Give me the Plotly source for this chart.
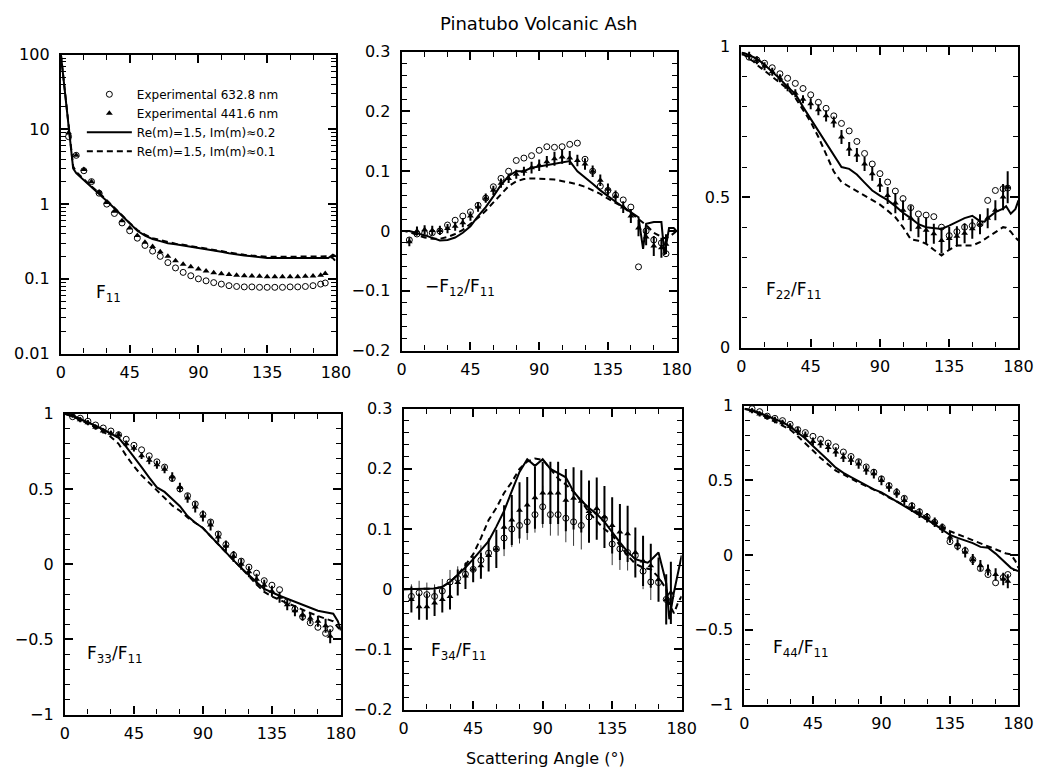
import plotly.graph_objects as go

# ---------------- data ----------------
# scattering angles (deg) of model curves and of measurements
ANG_MODEL = [0, 2, 5, 8, 10,
             15, 20, 25, 30, 35, 40, 45, 50, 55, 60,
             65, 70, 75, 80, 85, 90, 95, 100, 105, 110,
             115, 120, 125, 130, 135, 140, 145, 150, 155,
             158, 160, 165, 170, 172, 175, 178, 180]
ANG_EXP = [5, 10, 15, 20, 25, 30, 35, 40, 45, 50,
           55, 60, 65, 70, 75, 80, 85, 90, 95, 100,
           105, 110, 115, 120, 125, 130, 135, 140, 145, 150,
           155, 160, 165, 170, 173]

# ---- F11 ----
F11_M02 = [100, 40, 12, 3.0, 2.6,
           2.1, 1.7, 1.4, 1.1, 0.88, 0.7, 0.55, 0.44, 0.38, 0.34,
           0.32, 0.3, 0.29, 0.28, 0.27, 0.26, 0.25, 0.24, 0.23, 0.22,
           0.21, 0.205, 0.2, 0.195, 0.19, 0.19, 0.19, 0.188, 0.188,
           0.188, 0.19, 0.19, 0.19, 0.19, 0.19, 0.21, 0.2]
F11_M01 = [100, 42, 13, 3.2, 2.7,
           2.15, 1.72, 1.42, 1.12, 0.9, 0.72, 0.56, 0.45, 0.39, 0.35,
           0.33, 0.31, 0.295, 0.285, 0.275, 0.265, 0.255, 0.245, 0.235, 0.225,
           0.215, 0.21, 0.205, 0.2, 0.198, 0.197, 0.197, 0.197, 0.197,
           0.197, 0.197, 0.198, 0.198, 0.2, 0.2, 0.19, 0.17]
F11_632 = [8.0, 4.5, 2.8, 2.0, 1.4, 1.0, 0.75, 0.56, 0.44, 0.35,
           0.28, 0.235, 0.2, 0.165, 0.14, 0.122, 0.11, 0.1, 0.094, 0.089,
           0.085, 0.081, 0.079, 0.078, 0.078, 0.077, 0.077, 0.077, 0.077, 0.078,
           0.078, 0.079, 0.081, 0.085, 0.088]
F11_441 = [9.0, 4.5, 2.9, 2.0, 1.45, 1.05, 0.8, 0.6, 0.48, 0.38,
           0.31, 0.27, 0.23, 0.2, 0.175, 0.157, 0.145, 0.135, 0.127, 0.121,
           0.117, 0.114, 0.112, 0.11, 0.109, 0.108, 0.107, 0.107, 0.107, 0.107,
           0.107, 0.108, 0.109, 0.112, 0.118]

# ---- -F12/F11 ----
F12_M02 = [0, 0, 0, -0.002, -0.004,
           -0.007, -0.012, -0.016, -0.015, -0.011, -0.003, 0.008, 0.025, 0.04, 0.058,
           0.077, 0.092, 0.1, 0.1, 0.106, 0.108, 0.11, 0.112, 0.114, 0.117,
           0.1, 0.09, 0.079, 0.068, 0.058, 0.049, 0.04, 0.032, 0.023,
           -0.03, 0.012, 0.015, 0.015, -0.04, 0.005, 0.005, 0.0]
F12_M01 = [0, 0, -0.002, -0.005, -0.007,
           -0.011, -0.013, -0.013, -0.01, -0.005, 0.002, 0.012, 0.022, 0.034, 0.048,
           0.062, 0.075, 0.083, 0.087, 0.088, 0.088, 0.087, 0.086, 0.084, 0.081,
           0.078, 0.074, 0.068, 0.062, 0.054, 0.047, 0.04, 0.03, 0.02,
           0.014, 0.01, -0.003, -0.01, -0.012, -0.01, -0.004, 0.0]
F12_632 = [-0.015, -0.005, -0.004, -0.003, 0.0, 0.01, 0.018, 0.025, 0.032, 0.043,
           0.055, 0.074, 0.088, 0.1, 0.118, 0.122, 0.126, 0.135, 0.141, 0.14,
           0.141, 0.145, 0.147, 0.12, 0.1, 0.075, 0.068, 0.06, 0.052, 0.04,
           -0.06, 0.0, -0.015, -0.02, -0.038]
F12_441 = [-0.018, 0.0, 0.002, 0.001, 0.001, 0.004, 0.008, 0.014, 0.025, 0.04,
           0.055, 0.068, 0.08, 0.088, 0.095, 0.1, 0.106, 0.11, 0.116, 0.121,
           0.124, 0.122, 0.118, 0.112, 0.1, 0.085, 0.07, 0.058, 0.04, 0.025,
           0.005, -0.01, -0.025, -0.028, -0.022]
F12_441_ERR = [0.006, 0.006, 0.006, 0.006, 0.006, 0.006, 0.006, 0.006, 0.006, 0.006,
               0.006, 0.006, 0.006, 0.006, 0.006, 0.006, 0.008, 0.008, 0.008, 0.01,
               0.01, 0.01, 0.008, 0.008, 0.008, 0.008, 0.008, 0.008, 0.008, 0.01,
               0.012, 0.012, 0.015, 0.015, 0.015]

# ---- F22/F11 ----
F22_M02 = [0.98, 0.978, 0.972, 0.965, 0.96,
           0.94, 0.917, 0.893, 0.866, 0.843, 0.8, 0.76, 0.72, 0.68, 0.638,
           0.6, 0.594, 0.575, 0.548, 0.522, 0.505, 0.49, 0.47, 0.448, 0.43,
           0.41, 0.4, 0.397, 0.394, 0.405, 0.417, 0.43, 0.438, 0.42,
           0.418, 0.43, 0.45, 0.462, 0.47, 0.445, 0.46, 0.489]
F22_M01 = [0.975, 0.972, 0.96, 0.95, 0.94,
           0.92, 0.9, 0.88, 0.86, 0.83, 0.79, 0.75, 0.7, 0.645, 0.585,
           0.55, 0.535, 0.52, 0.505, 0.49, 0.475, 0.455, 0.433, 0.4, 0.36,
           0.355, 0.345, 0.325, 0.306, 0.325, 0.339, 0.339, 0.339, 0.35,
           0.36, 0.367, 0.385, 0.4, 0.398, 0.385, 0.365, 0.356]
F22_632 = [0.965, 0.956, 0.945, 0.93, 0.91, 0.895, 0.878, 0.861, 0.84, 0.815,
           0.795, 0.77, 0.745, 0.72, 0.685, 0.645, 0.61, 0.578, 0.55, 0.52,
           0.495, 0.465, 0.444, 0.44, 0.435, 0.4, 0.372, 0.385, 0.4, 0.405,
           0.411, 0.489, 0.522, 0.528, 0.53]
F22_441 = [0.97, 0.955, 0.935, 0.917, 0.895, 0.865, 0.845, 0.825, 0.81, 0.79,
           0.77, 0.75, 0.7, 0.66, 0.64, 0.61, 0.578, 0.54, 0.505, 0.48,
           0.456, 0.43, 0.4, 0.39, 0.378, 0.356, 0.362, 0.37, 0.38, 0.395,
           0.41, 0.43, 0.456, 0.5, 0.533]
F22_441_ERR = [0.01, 0.01, 0.01, 0.01, 0.01, 0.01, 0.01, 0.01, 0.015, 0.015,
               0.015, 0.015, 0.02, 0.02, 0.02, 0.02, 0.02, 0.02, 0.025, 0.03,
               0.03, 0.04, 0.03, 0.04, 0.03, 0.04, 0.035, 0.03, 0.03, 0.03,
               0.03, 0.03, 0.03, 0.04, 0.05]

# ---- F33/F11 ----
F33_M02 = [1.0, 0.995, 0.985, 0.975, 0.965,
           0.945, 0.92, 0.895, 0.866, 0.84, 0.78, 0.715, 0.645, 0.575, 0.51,
           0.48, 0.435, 0.385, 0.32, 0.275, 0.24, 0.185, 0.135, 0.08, 0.025,
           -0.025, -0.075, -0.12, -0.165, -0.19, -0.21, -0.23, -0.25, -0.27,
           -0.28, -0.29, -0.31, -0.32, -0.325, -0.33, -0.38, -0.44]
F33_M01 = [1.0, 0.993, 0.98, 0.97, 0.96,
           0.935, 0.91, 0.88, 0.845, 0.8, 0.72, 0.65, 0.59, 0.54, 0.49,
           0.44, 0.39, 0.355, 0.31, 0.275, 0.24, 0.185, 0.133, 0.078, 0.022,
           -0.03, -0.08, -0.135, -0.185, -0.215, -0.24, -0.26, -0.28, -0.305,
           -0.315, -0.325, -0.345, -0.36, -0.37, -0.38, -0.42, -0.44]
F33_632 = [0.98, 0.97, 0.95, 0.925, 0.905, 0.885, 0.86, 0.83, 0.79, 0.76,
           0.72, 0.68, 0.645, 0.57, 0.5, 0.455, 0.4, 0.33, 0.28, 0.2,
           0.13, 0.06, 0.02, -0.02, -0.06, -0.11, -0.14, -0.17, -0.25, -0.3,
           -0.35, -0.39, -0.42, -0.46, -0.43]
F33_441 = [0.99, 0.96, 0.94, 0.91, 0.885, 0.87, 0.86, 0.8, 0.77, 0.72,
           0.69, 0.66, 0.63, 0.58, 0.51, 0.44, 0.38, 0.32, 0.26, 0.18,
           0.12, 0.05, 0.0, -0.05, -0.1, -0.14, -0.18, -0.22, -0.27, -0.31,
           -0.34, -0.36, -0.38, -0.41, -0.48]
F33_441_ERR = [0.01, 0.01, 0.01, 0.01, 0.01, 0.01, 0.015, 0.015, 0.015, 0.015,
               0.02, 0.02, 0.02, 0.025, 0.025, 0.025, 0.03, 0.03, 0.03, 0.03,
               0.03, 0.03, 0.03, 0.03, 0.03, 0.03, 0.03, 0.03, 0.03, 0.03,
               0.03, 0.03, 0.03, 0.04, 0.04]

# ---- F34/F11 ----
F34_M02 = [0, 0, 0, 0, 0,
           0, 0.001, 0.004, 0.012, 0.024, 0.036, 0.05, 0.065, 0.08, 0.104,
           0.13, 0.163, 0.195, 0.216, 0.205, 0.216, 0.2, 0.193, 0.186, 0.162,
           0.147, 0.135, 0.125, 0.112, 0.094, 0.078, 0.062, 0.05, 0.046,
           0.044, 0.048, 0.061, 0.01, -0.05, -0.005, 0.035, 0.056]
F34_M01 = [0, 0, 0, 0, 0,
           0, 0.001, 0.004, 0.012, 0.024, 0.04, 0.058, 0.085, 0.115, 0.135,
           0.16, 0.178, 0.2, 0.212, 0.217, 0.215, 0.2, 0.184, 0.174, 0.162,
           0.146, 0.128, 0.113, 0.1, 0.09, 0.073, 0.056, 0.042, 0.036,
           0.034, 0.033, 0.02, 0.0, -0.025, -0.04, -0.02, -0.012]
F34_632 = [-0.012, -0.006, -0.009, -0.012, -0.003, 0.012, 0.018, 0.025, 0.033, 0.048,
           0.06, 0.067, 0.085, 0.1, 0.106, 0.112, 0.124, 0.137, 0.124, 0.124,
           0.118, 0.112, 0.106, 0.12, 0.129, 0.117, 0.075, 0.067, 0.061, 0.056,
           0.03, 0.012, 0.011, -0.017, -0.012]
F34_632_ERR = [0.02, 0.02, 0.02, 0.02, 0.02, 0.02, 0.02, 0.02, 0.02, 0.025,
               0.025, 0.025, 0.03, 0.03, 0.03, 0.03, 0.03, 0.035, 0.035, 0.035,
               0.04, 0.04, 0.04, 0.035, 0.035, 0.035, 0.035, 0.035, 0.03, 0.03,
               0.03, 0.03, 0.03, 0.04, 0.04]
F34_441 = [-0.017, -0.029, -0.029, -0.023, -0.017, -0.012, 0.011, 0.022, 0.033, 0.039,
           0.056, 0.067, 0.103, 0.115, 0.131, 0.14, 0.152, 0.16, 0.16, 0.16,
           0.148, 0.151, 0.146, 0.129, 0.134, 0.12, 0.106, 0.095, 0.092, 0.061,
           0.047, 0.039, 0.016, -0.017, -0.006]
F34_441_ERR = [0.02, 0.02, 0.02, 0.02, 0.02, 0.02, 0.02, 0.02, 0.02, 0.02,
               0.025, 0.03, 0.035, 0.04, 0.045, 0.045, 0.05, 0.05, 0.05, 0.05,
               0.05, 0.05, 0.05, 0.05, 0.05, 0.05, 0.045, 0.045, 0.045, 0.04,
               0.04, 0.035, 0.035, 0.04, 0.05]

# ---- F44/F11 ----
F44_M02 = [0.98, 0.978, 0.97, 0.96, 0.952,
           0.93, 0.91, 0.89, 0.86, 0.82, 0.78, 0.73, 0.685, 0.635, 0.585,
           0.55, 0.522, 0.495, 0.465, 0.44, 0.42, 0.39, 0.36, 0.33, 0.298,
           0.27, 0.238, 0.206, 0.17, 0.135, 0.115, 0.1, 0.08, 0.055,
           0.05, 0.049, 0.01, -0.04, -0.06, -0.085, -0.1, -0.107]
F44_M01 = [0.978, 0.975, 0.965, 0.955, 0.945,
           0.92, 0.895, 0.87, 0.84, 0.795, 0.75, 0.7, 0.65, 0.605, 0.565,
           0.54, 0.51, 0.485, 0.462, 0.44, 0.415, 0.385, 0.36, 0.335, 0.31,
           0.28, 0.25, 0.22, 0.19, 0.16, 0.14, 0.12, 0.1, 0.075,
           0.065, 0.055, 0.035, 0.02, 0.01, 0.005, -0.04, -0.085]
F44_632 = [0.98, 0.96, 0.93, 0.915, 0.9, 0.875, 0.84, 0.82, 0.795, 0.775,
           0.75, 0.725, 0.69, 0.66, 0.625, 0.59, 0.555, 0.51, 0.465, 0.42,
           0.38, 0.33, 0.29, 0.255, 0.22, 0.185, 0.09, 0.06, 0.03, -0.03,
           -0.09, -0.13, -0.185, -0.15, -0.13]
F44_441 = [0.966, 0.945, 0.925, 0.905, 0.885, 0.86, 0.83, 0.8, 0.76, 0.745,
           0.72, 0.69, 0.655, 0.635, 0.61, 0.57, 0.545, 0.5, 0.455, 0.415,
           0.365, 0.32, 0.28, 0.25, 0.22, 0.18, 0.12, 0.07, 0.02, -0.03,
           -0.07, -0.1, -0.13, -0.16, -0.175]
F44_441_ERR = [0.01, 0.01, 0.01, 0.015, 0.015, 0.015, 0.02, 0.02, 0.02, 0.02,
               0.025, 0.025, 0.025, 0.025, 0.025, 0.025, 0.025, 0.025, 0.025, 0.025,
               0.025, 0.025, 0.025, 0.025, 0.025, 0.025, 0.03, 0.03, 0.03, 0.03,
               0.03, 0.03, 0.035, 0.035, 0.04]

LEGEND_NAMES = ["Experimental 632.8 nm", "Experimental 441.6 nm",
                "Re(m)=1.5, Im(m)≈0.2", "Re(m)=1.5, Im(m)≈0.1"]
PANEL_LABELS = ["F<sub>11</sub>", "−F<sub>12</sub>/F<sub>11</sub>", "F<sub>22</sub>/F<sub>11</sub>",
                "F<sub>33</sub>/F<sub>11</sub>", "F<sub>34</sub>/F<sub>11</sub>", "F<sub>44</sub>/F<sub>11</sub>"]

# ---------------- layout geometry ----------------
W, H = 1044, 770
# the rendered page is slightly shrunk and offset; map target pixel -> paper fraction
AX, BX = 0.9844, 10.9
AY, BY = 0.9726, 17.4


def fx(px):
    return ((px - BX) / AX) / W


def fy(py):
    return 1 - ((py - BY) / AY) / H


# target panel boxes (left, right, top, bottom) in pixels
BOXES = [(59, 335, 55, 353), (401, 677, 52, 350), (742, 1020, 47, 347),
         (63, 340, 413, 713), (403, 682, 408, 708), (745, 1020, 405, 703)]
LABEL_POS = [(92, 293), (422, 287), (765, 290), (83, 653), (428, 650), (772, 647)]
FONT = "DejaVu Sans, Verdana, sans-serif"

panels = [
    dict(c=F11_632, t=F11_441, s=F11_M02, d=F11_M01, te=None, ce=None, ytype="log",
         yrange=[-2, 2], tick0=0, dtick=1, minor="D1"),
    dict(c=F12_632, t=F12_441, s=F12_M02, d=F12_M01, te=F12_441_ERR, ce=None, ytype="linear",
         yrange=[-0.2, 0.3], tick0=-0.2, dtick=0.1, minor=0.02),
    dict(c=F22_632, t=F22_441, s=F22_M02, d=F22_M01, te=F22_441_ERR, ce=None, ytype="linear",
         yrange=[0, 1], tick0=0, dtick=0.5, minor=0.1),
    dict(c=F33_632, t=F33_441, s=F33_M02, d=F33_M01, te=F33_441_ERR, ce=None, ytype="linear",
         yrange=[-1, 1], tick0=-1, dtick=0.5, minor=0.1),
    dict(c=F34_632, t=F34_441, s=F34_M02, d=F34_M01, te=F34_441_ERR, ce=F34_632_ERR, ytype="linear",
         yrange=[-0.2, 0.3], tick0=-0.2, dtick=0.1, minor=0.02),
    dict(c=F44_632, t=F44_441, s=F44_M02, d=F44_M01, te=F44_441_ERR, ce=None, ytype="linear",
         yrange=[-1, 1], tick0=-1, dtick=0.5, minor=0.1),
]

fig = go.Figure()
layout = {}
annotations = []

for i, p in enumerate(panels):
    n = i + 1
    sfx = "" if n == 1 else str(n)
    l, r, t, b = BOXES[i]
    xd = [fx(l), fx(r)]
    yd = [fy(b), fy(t)]
    xa, ya = "x" + sfx, "y" + sfx
    show = (n == 1)

    fig.add_trace(go.Scatter(
        x=ANG_MODEL, y=p["s"], mode="lines", name=LEGEND_NAMES[2], showlegend=show,
        legendrank=3, xaxis=xa, yaxis=ya, line=dict(color="black", width=2)))
    fig.add_trace(go.Scatter(
        x=ANG_MODEL, y=p["d"], mode="lines", name=LEGEND_NAMES[3], showlegend=show,
        legendrank=4, xaxis=xa, yaxis=ya, line=dict(color="black", width=2, dash="6px,4px")))
    fig.add_trace(go.Scatter(
        x=ANG_EXP, y=p["c"], mode="markers", name=LEGEND_NAMES[0], showlegend=show,
        legendrank=1, xaxis=xa, yaxis=ya,
        marker=dict(symbol="circle-open", size=6, color="black", line=dict(width=1, color="black")),
        error_y=(dict(type="data", array=p["ce"], color="black", thickness=0.8, width=0)
                 if p["ce"] is not None else None)))
    fig.add_trace(go.Scatter(
        x=ANG_EXP, y=p["t"], mode="markers", name=LEGEND_NAMES[1], showlegend=show,
        legendrank=2, xaxis=xa, yaxis=ya,
        marker=dict(symbol="triangle-up", size=6, color="black"),
        error_y=(dict(type="data", array=p["te"], color="black", thickness=2, width=1)
                 if p["te"] is not None else None)))

    layout["xaxis" + sfx] = dict(
        domain=xd, anchor=ya, range=[0, 180], tickmode="linear", tick0=0, dtick=45,
        ticks="inside", ticklen=8, tickwidth=1.6, tickcolor="black",
        minor=dict(tickmode="linear", tick0=0, dtick=15, ticks="inside", ticklen=5,
                   tickwidth=1.4, tickcolor="black", showgrid=False),
        mirror="allticks", showline=True, linewidth=2.2, linecolor="black",
        showgrid=False, zeroline=False, tickfont=dict(family=FONT, size=16, color="black"),
        ticklabelstandoff=3)
    layout["yaxis" + sfx] = dict(
        domain=yd, anchor=xa, type=p["ytype"], range=p["yrange"], tickmode="linear",
        tick0=p["tick0"], dtick=p["dtick"],
        ticks="inside", ticklen=8, tickwidth=1.6, tickcolor="black",
        minor=dict(dtick=p["minor"], ticks="inside", ticklen=5, tickwidth=1.4,
                   tickcolor="black", showgrid=False),
        mirror="allticks", showline=True, linewidth=2.2, linecolor="black",
        showgrid=False, zeroline=False, tickfont=dict(family=FONT, size=16, color="black"),
        ticklabelstandoff=6)

    lx, ly = LABEL_POS[i]
    annotations.append(dict(
        text=PANEL_LABELS[i], x=fx(lx), y=fy(ly), xref="paper", yref="paper",
        xanchor="left", yanchor="middle", showarrow=False,
        font=dict(family=FONT, size=17, color="black")))

annotations.append(dict(
    text="Pinatubo Volcanic Ash", x=fx(539), y=fy(24), xref="paper", yref="paper",
    xanchor="center", yanchor="middle", showarrow=False,
    font=dict(family=FONT, size=18, color="black")))
annotations.append(dict(
    text="Scattering Angle (°)", x=fx(545), y=fy(757), xref="paper", yref="paper",
    xanchor="center", yanchor="middle", showarrow=False,
    font=dict(family=FONT, size=16, color="black")))

fig.update_layout(
    width=W, height=H, margin=dict(l=0, r=0, t=0, b=0),
    paper_bgcolor="white", plot_bgcolor="white",
    annotations=annotations,
    legend=dict(x=fx(80), y=fy(80), xanchor="left", yanchor="top",
                bgcolor="rgba(0,0,0,0)", font=dict(family=FONT, size=12, color="black"),
                itemwidth=45, tracegroupgap=0, traceorder="normal"),
    showlegend=True,
    **layout)

fig.write_html("out.html")
